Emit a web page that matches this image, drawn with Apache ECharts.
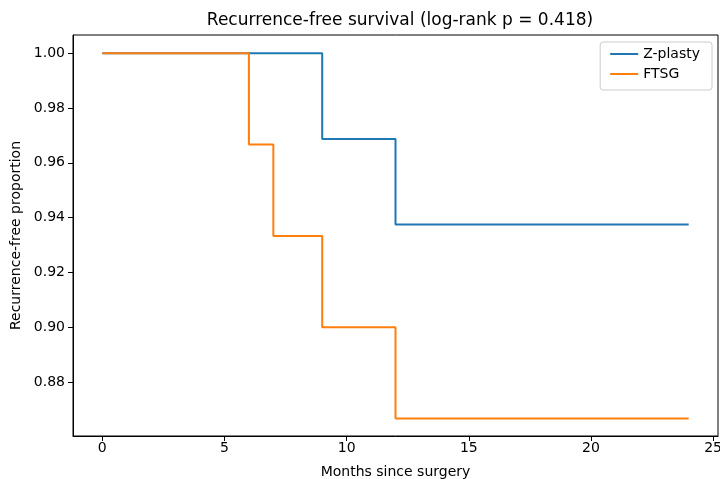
<!DOCTYPE html>
<html>
<head>
<meta charset="utf-8">
<script src="https://cdn.jsdelivr.net/npm/echarts@6/dist/echarts.min.js"></script>
<style>html,body{margin:0;padding:0;background:#fff}#c{width:720px;height:479px}</style>
</head>
<body>
<div id="c"></div>
<script>
const titleText = "Recurrence-free survival (log-rank p = 0.418)";
const seriesNames = ["Z-plasty", "FTSG"];
const zplastyTimes = [0, 9, 12, 24];
const zplastyValues = [1.0, 0.96875, 0.9375, 0.9375];
const ftsgTimes = [0, 6, 7, 9, 12, 24];
const ftsgValues = [1.0, 0.9667, 0.9333, 0.9, 0.8667, 0.8667];
const xTicks = [0, 5, 10, 15, 20, 25];
const yTicks = [0.88, 0.90, 0.92, 0.94, 0.96, 0.98, 1.00];
const colors = ["#1f77b4", "#ff7f0e"];

const font = "DejaVu Sans";
const chart = echarts.init(document.getElementById('c'), null, {renderer: 'canvas'});
const zData = zplastyTimes.map((t, i) => [t, zplastyValues[i]]);
const fData = ftsgTimes.map((t, i) => [t, ftsgValues[i]]);
chart.setOption({
  animation: false,
  backgroundColor: '#fff',
  textStyle: {fontFamily: font},
  title: {
    text: titleText, left: 395, top: 7, textAlign: 'center',
    textStyle: {fontFamily: font, fontSize: 17, fontWeight: 'normal', color: '#000'}
  },
  grid: {left: 73, right: 2, top: 35, bottom: 43, show: true, borderColor: '#000', borderWidth: 1,
    containLabel: false, outerBoundsMode: 'none'},
  legend: {
    orient: 'vertical', right: 8, top: 42,
    data: seriesNames.map(n => ({name: n, icon: 'rect'})),
    itemWidth: 28, itemHeight: 2, itemGap: 4,
    padding: [4, 12, 8, 10],
    borderColor: '#ccc', borderWidth: 1, borderRadius: 3,
    textStyle: {fontFamily: font, fontSize: 14, color: '#000', lineHeight: 16}
  },
  xAxis: {
    type: 'value', min: -1.2, max: 25.2,
    name: 'Months since surgery', nameLocation: 'middle', nameGap: 29,
    nameTextStyle: {fontFamily: font, fontSize: 14, color: '#000'},
    axisLine: {show: true, onZero: false, lineStyle: {color: '#000', width: 1}},
    axisTick: {show: true, length: 5, customValues: xTicks, lineStyle: {color: '#000'}},
    axisLabel: {customValues: xTicks, fontFamily: font, fontSize: 14, color: '#000', margin: 5,
      formatter: v => String(v)},
    splitLine: {show: false}
  },
  yAxis: {
    type: 'value', min: 0.8603, max: 1.00667,
    name: 'Recurrence-free proportion', nameLocation: 'middle', nameGap: 49,
    nameTextStyle: {fontFamily: font, fontSize: 14, color: '#000'},
    axisLine: {show: true, onZero: false, lineStyle: {color: '#000', width: 1}},
    axisTick: {show: true, length: 5, customValues: yTicks, lineStyle: {color: '#000'}},
    axisLabel: {customValues: yTicks, fontFamily: font, fontSize: 14, color: '#000', margin: 8,
      formatter: v => v.toFixed(2)},
    splitLine: {show: false}
  },
  series: [
    {name: seriesNames[0], type: 'line', step: 'end', data: zData, symbol: 'none',
      color: colors[0], lineStyle: {color: colors[0], width: 2}},
    {name: seriesNames[1], type: 'line', step: 'end', data: fData, symbol: 'none',
      color: colors[1], lineStyle: {color: colors[1], width: 2}}
  ]
});
</script>
</body>
</html>
